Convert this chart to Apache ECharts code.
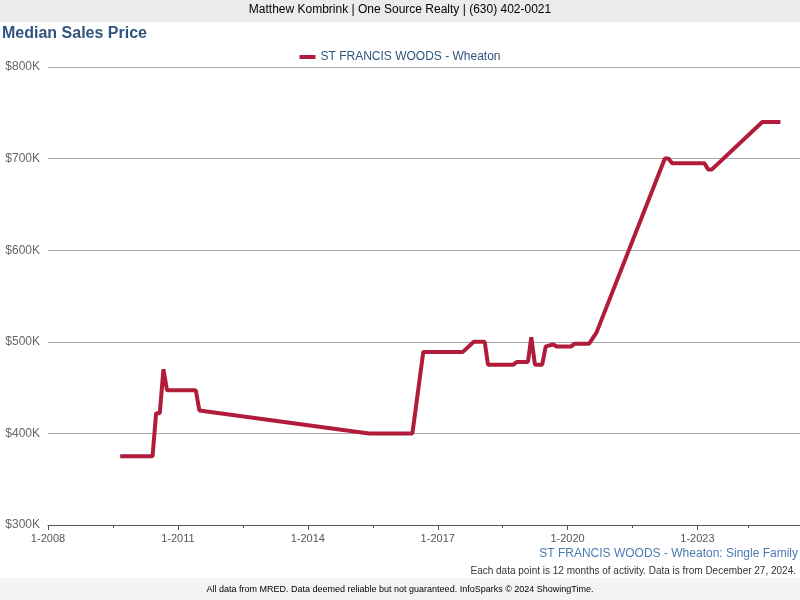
<!DOCTYPE html>
<html><head><meta charset="utf-8">
<script src="https://cdn.jsdelivr.net/npm/echarts@6/dist/echarts.min.js"></script>
<style>html,body{margin:0;padding:0;background:#fff}#c{width:800px;height:600px}</style>
</head><body><div id="c"></div>
<script>
const dates = ['2009-09','2010-06','2010-07','2010-08','2010-09','2010-10','2011-06','2011-07','2015-06','2016-06','2016-09','2017-08','2017-11','2018-02','2018-03','2018-10','2018-11','2019-02','2019-03','2019-04','2019-06','2019-07','2019-09','2019-10','2020-02','2020-03','2020-07','2020-09','2022-04','2022-05','2022-06','2023-03','2023-04','2023-05','2024-07','2024-12'];
const values = [375,375,422,422,470,447,447,425,400,400,489,489,500,500,475,475,478,478,505,475,475,495,497,495,495,498,498,510,700,700,695,695,688,688,740,740];
const yTicks = [300,400,500,600,700,800];
const seriesName = 'ST FRANCIS WOODS - Wheaton';
const chart = echarts.init(document.getElementById('c'));
const F = 'Liberation Sans, Arial, sans-serif';
chart.setOption({
  animation:false,
  textStyle:{fontFamily:F},
  graphic:[
    {type:'rect',shape:{x:0,y:0,width:800,height:22},style:{fill:'#ebebeb'}},
    {type:'text',left:'center',top:4,style:{text:'Matthew Kombrink | One Source Realty | (630) 402-0021',font:'12px '+F,fill:'#000'}},
    {type:'text',left:2,top:26,style:{text:'Median Sales Price',font:'bold 16px '+F,fill:'#2f557f'}},
    {type:'text',right:2,top:548,style:{text:seriesName+': Single Family',font:'12px '+F,fill:'#4a7bb0'}},
    {type:'text',right:4,top:566,style:{text:'Each data point is 12 months of activity. Data is from December 27, 2024.',font:'10px '+F,fill:'#333'}},
    {type:'rect',shape:{x:0,y:578,width:800,height:22},style:{fill:'#f4f4f4'}},
    {type:'text',left:'center',top:585,style:{text:'All data from MRED. Data deemed reliable but not guaranteed. InfoSparks © 2024 ShowingTime.',font:'9px '+F,fill:'#000'}}
  ],
  legend:{top:46,left:'center',itemWidth:16,itemHeight:4,icon:'rect',textStyle:{fontSize:12,color:'#2f557f',fontFamily:F},data:[seriesName]},
  grid:{left:48,right:0,top:67,bottom:75},
  xAxis:{type:'time',min:'2008-01-01',max:'2025-05-15',
    axisLine:{lineStyle:{color:'#555'}},axisTick:{show:true,length:5,lineStyle:{color:'#555'}},
    minorTick:{show:true,splitNumber:2,length:3,lineStyle:{color:'#555'}},
    axisLabel:{color:'#555',fontSize:11,formatter:v=>'1-'+new Date(v).getFullYear(),hideOverlap:false},
    splitLine:{show:false}},
  yAxis:{type:'value',min:300,max:800,interval:100,
    axisLabel:{color:'#666',fontSize:12,formatter:v=>yTicks.includes(v)?'$'+v+'K':''},
    axisLine:{show:false},axisTick:{show:false},splitLine:{lineStyle:{color:'#aaa'}}},
  series:[{name:seriesName,type:'line',showSymbol:false,
    itemStyle:{color:'#b01c3a'},lineStyle:{width:4,color:'#b01c3a'},
    data:dates.map((d,i)=>[d+'-01',values[i]])}]
});
</script></body></html>
